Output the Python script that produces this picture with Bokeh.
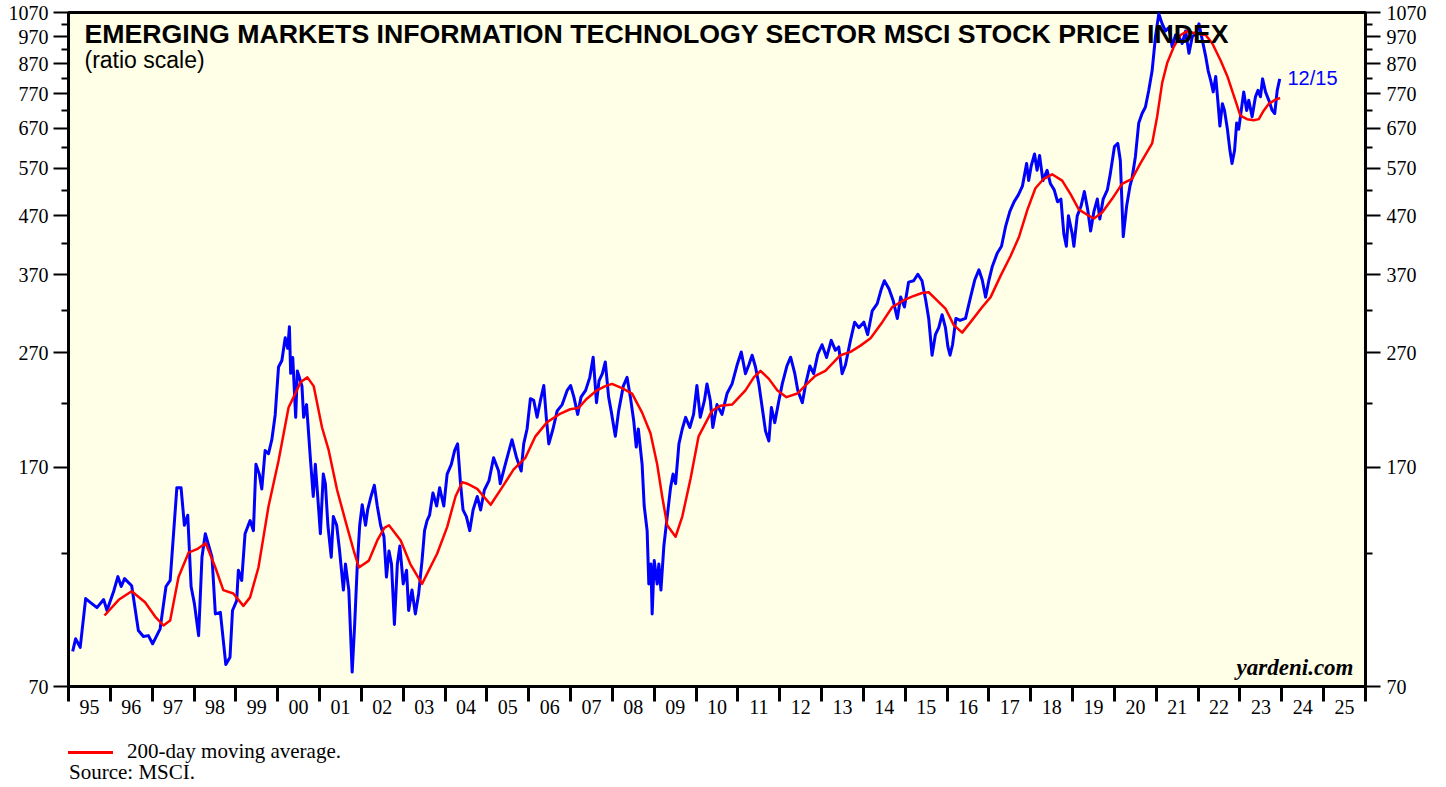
from bokeh.plotting import figure
from bokeh.layouts import column
from bokeh.models import (Range1d, FixedTicker, PrintfTickFormatter, LogAxis,
                          CustomJSTickFormatter, Label, Div)
from bokeh.embed import file_html
from bokeh.resources import INLINE

# ---------------- data (decimal year, index level) ----------------
blue_dates = [
    1995.10, 1995.17, 1995.28, 1995.41, 1995.52, 1995.68, 1995.84, 1995.92,
    1996.08, 1996.18, 1996.26, 1996.34, 1996.51, 1996.67, 1996.79, 1996.91,
    1997.01, 1997.19, 1997.33, 1997.43, 1997.59, 1997.69, 1997.77, 1997.85, 1997.93,
    1998.01, 1998.11, 1998.19, 1998.27, 1998.43, 1998.51, 1998.63, 1998.76, 1998.86, 1998.92,
    1999.02, 1999.06, 1999.14, 1999.22, 1999.34, 1999.42, 1999.48, 1999.56, 1999.62,
    1999.70, 1999.78, 1999.86, 1999.94,
    2000.02, 2000.10, 2000.18, 2000.24, 2000.28, 2000.31, 2000.36, 2000.43, 2000.47,
    2000.58, 2000.62, 2000.69, 2000.78, 2000.85, 2000.90, 2000.98,
    2001.02, 2001.09, 2001.14, 2001.20, 2001.28, 2001.33, 2001.41, 2001.48, 2001.57,
    2001.62, 2001.70, 2001.74, 2001.78, 2001.84, 2001.90, 2001.96,
    2002.02, 2002.10, 2002.15, 2002.23, 2002.31, 2002.38, 2002.46, 2002.54, 2002.60,
    2002.66, 2002.72, 2002.79, 2002.86, 2002.92,
    2003.00, 2003.08, 2003.13, 2003.21, 2003.29, 2003.37, 2003.45, 2003.51, 2003.57,
    2003.63, 2003.71, 2003.80, 2003.87, 2003.97,
    2004.05, 2004.15, 2004.23, 2004.30, 2004.37, 2004.43, 2004.51, 2004.59, 2004.67,
    2004.77, 2004.85, 2004.94,
    2005.05, 2005.16, 2005.28, 2005.32, 2005.44, 2005.60, 2005.71, 2005.82, 2005.88, 2005.96,
    2006.04, 2006.12, 2006.20, 2006.28, 2006.36, 2006.42, 2006.48, 2006.58, 2006.68,
    2006.80, 2006.92,
    2007.00, 2007.08, 2007.17, 2007.25, 2007.36, 2007.46, 2007.54, 2007.62, 2007.68,
    2007.76, 2007.83, 2007.91, 2007.97,
    2008.07, 2008.15, 2008.26, 2008.35, 2008.43, 2008.51, 2008.57, 2008.62, 2008.71,
    2008.76, 2008.83, 2008.87, 2008.92, 2008.95,
    2009.00, 2009.07, 2009.11, 2009.16, 2009.23, 2009.31, 2009.39, 2009.45, 2009.51,
    2009.59, 2009.67, 2009.75, 2009.85, 2009.94,
    2010.02, 2010.10, 2010.20, 2010.26, 2010.34, 2010.40, 2010.50, 2010.62, 2010.74,
    2010.86, 2010.98,
    2011.08, 2011.18, 2011.26, 2011.34, 2011.42, 2011.50, 2011.58, 2011.66, 2011.74,
    2011.80, 2011.88, 2011.98,
    2012.06, 2012.17, 2012.26, 2012.36, 2012.43, 2012.54, 2012.62, 2012.72, 2012.81, 2012.91,
    2013.01, 2013.12, 2013.23, 2013.33, 2013.41, 2013.49, 2013.57, 2013.69, 2013.79, 2013.89,
    2014.01, 2014.10, 2014.21, 2014.33, 2014.43, 2014.50, 2014.61, 2014.71, 2014.81,
    2014.89, 2014.98,
    2015.08, 2015.20, 2015.30, 2015.40, 2015.49, 2015.56, 2015.64, 2015.72, 2015.80,
    2015.88, 2015.96,
    2016.02, 2016.07, 2016.13, 2016.21, 2016.31, 2016.44, 2016.56, 2016.66, 2016.76,
    2016.84, 2016.92,
    2017.00, 2017.08, 2017.20, 2017.30, 2017.40, 2017.50, 2017.60, 2017.70, 2017.80,
    2017.90, 2017.95,
    2018.01, 2018.09, 2018.15, 2018.21, 2018.29, 2018.39, 2018.47, 2018.56, 2018.64,
    2018.72, 2018.79, 2018.85, 2018.90, 2018.99,
    2019.03, 2019.11, 2019.20, 2019.28, 2019.36, 2019.43, 2019.51, 2019.59, 2019.65,
    2019.73, 2019.83, 2019.90,
    2020.00, 2020.08, 2020.14, 2020.21, 2020.29, 2020.37, 2020.42, 2020.50, 2020.58,
    2020.66, 2020.74, 2020.82, 2020.90, 2020.98,
    2021.06, 2021.14, 2021.22, 2021.30, 2021.38, 2021.46, 2021.54, 2021.62, 2021.70,
    2021.78, 2021.86, 2021.94,
    2022.02, 2022.10, 2022.18, 2022.24, 2022.30, 2022.36, 2022.42, 2022.47, 2022.52,
    2022.58, 2022.63, 2022.70, 2022.76, 2022.81, 2022.87, 2022.92, 2022.97,
    2023.03, 2023.09, 2023.16, 2023.21, 2023.29, 2023.37, 2023.43, 2023.49, 2023.54,
    2023.61, 2023.69, 2023.77, 2023.83, 2023.89, 2023.95,
]
blue_values = [
    80.7, 84.9, 82.0, 99.9, 98.4, 96.3, 99.5, 95.2,
    102.9, 109.2, 104.9, 108.3, 105.2, 87.8, 85.7, 86.0,
    83.2, 88.4, 104.9, 107.5, 156.5, 156.5, 134.4, 140.0, 104.9,
    97.8, 86.0, 118.1, 129.9, 118.1, 93.9, 94.5, 76.5, 78.8, 95.2,
    99.1, 112.0, 107.5, 129.9, 137.0, 131.5, 172.0, 165.3, 155.7,
    181.9, 179.5, 190.0, 210.0,
    255.0, 261.8, 287.0, 275.0, 300.0, 248.5, 265.0, 208.0, 251.0,
    236.0, 208.0, 219.0, 176.6, 151.0, 172.0, 143.0,
    129.9, 165.3, 159.0, 134.4, 118.1, 139.2, 134.4, 121.1, 103.4,
    114.9, 103.4, 87.5, 74.2, 90.0, 113.3, 134.4,
    146.0, 134.4, 143.0, 151.0, 158.0, 145.3, 134.4, 128.3, 109.0,
    121.1, 114.9, 90.0, 114.9, 123.6,
    106.0, 112.0, 95.2, 103.4, 93.9, 102.0, 116.5, 131.5, 137.0,
    140.0, 153.2, 145.3, 156.5, 145.3,
    165.3, 172.0, 181.9, 186.8, 159.0, 143.0, 139.2, 131.5, 143.0,
    151.0, 143.0, 155.0,
    161.0, 176.6, 167.4, 159.0, 172.0, 190.0, 176.6, 167.4, 186.8, 198.4,
    224.3, 222.7, 208.0, 222.7, 236.6, 208.0, 186.8, 198.4, 213.5,
    219.0, 232.0,
    236.6, 225.7, 210.5, 225.7, 232.0, 244.5, 265.3, 220.7, 241.0,
    248.2, 260.2, 225.7, 213.5,
    192.6, 213.5, 236.0, 244.5, 225.7, 205.0, 184.4, 198.4, 172.0,
    145.3, 131.5, 106.0, 114.9, 93.9,
    116.5, 106.0, 114.9, 103.4, 123.6, 139.2, 156.5, 165.3, 159.0,
    186.8, 198.4, 208.0, 199.6, 210.5,
    236.6, 208.0, 222.7, 238.1, 222.7, 199.6, 219.0, 210.5, 229.0,
    238.1, 257.0,
    271.0, 248.2, 257.0, 267.4, 255.0, 238.1, 216.4, 196.7, 189.0,
    216.4, 203.6, 222.7,
    238.1, 256.0, 265.3, 248.2, 232.0, 220.7, 238.1, 256.0, 248.2, 268.6,
    279.0, 265.0, 284.0, 272.8, 276.5, 248.2, 257.0, 284.0, 305.7, 299.0,
    305.7, 290.6, 320.0, 329.6, 350.0, 361.4, 350.0, 333.8, 310.3,
    338.3, 325.0,
    359.5, 361.4, 371.0, 361.4, 333.8, 310.3, 267.4, 290.6, 299.0,
    315.0, 299.0,
    276.5, 267.4, 279.0, 310.3, 307.8, 310.3, 338.3, 362.5, 377.8,
    362.5, 338.3,
    362.5, 383.0, 404.5, 415.6, 451.0, 478.6, 497.4, 511.0, 530.0,
    581.0, 542.0,
    575.0, 603.7, 565.0, 600.0, 542.0, 565.0, 535.0, 522.0, 497.4,
    503.0, 437.0, 415.6, 470.0, 437.0,
    415.6, 470.0, 488.5, 518.6, 482.0, 442.0, 478.6, 503.0, 464.0,
    503.0, 522.0, 557.0,
    622.0, 630.0, 588.0, 432.0, 488.5, 530.0, 547.0, 597.0, 684.0,
    711.0, 730.0, 781.0, 845.0, 970.0,
    1065.0, 1022.0, 993.0, 1007.0, 932.0, 977.0, 970.0, 944.0, 993.0,
    907.0, 970.0, 983.0,
    1022.0, 957.0, 896.0, 845.0, 813.0, 776.0, 826.0, 750.0, 676.0,
    740.0, 720.0, 667.0, 612.0, 581.0, 612.0, 684.0, 667.0,
    720.0, 776.0, 720.0, 750.0, 702.0, 761.0, 781.0, 761.0, 818.0,
    776.0, 750.0, 720.0, 711.0, 781.0, 818.0,
]

ma_dates = [
    1995.86, 1996.20, 1996.51, 1996.83, 1997.07, 1997.27, 1997.43, 1997.63, 1997.87,
    1998.07, 1998.28, 1998.51, 1998.70, 1998.94, 1999.18, 1999.34, 1999.54, 1999.78,
    2000.02, 2000.26, 2000.38, 2000.55, 2000.71, 2000.86, 2001.06, 2001.22, 2001.42,
    2001.66, 2001.82, 2001.94, 2002.18, 2002.38, 2002.55, 2002.66, 2002.94, 2003.17,
    2003.45, 2003.61, 2003.81, 2004.05, 2004.25, 2004.41, 2004.53, 2004.77, 2005.09,
    2005.36, 2005.64, 2005.92, 2006.16, 2006.44, 2006.76, 2006.99, 2007.19, 2007.39,
    2007.63, 2007.83, 2007.99, 2008.23, 2008.47, 2008.71, 2008.91, 2009.07, 2009.19,
    2009.31, 2009.51, 2009.67, 2009.87, 2010.06, 2010.38, 2010.58, 2010.86, 2011.18,
    2011.38, 2011.54, 2011.74, 2011.94, 2012.16, 2012.42, 2012.65, 2012.85, 2013.09,
    2013.45, 2013.69, 2013.93, 2014.17, 2014.45, 2014.69, 2014.96, 2015.16, 2015.40,
    2015.56, 2015.76, 2015.96, 2016.16, 2016.36, 2016.56, 2016.84, 2017.04, 2017.28,
    2017.52, 2017.72, 2017.92, 2018.11, 2018.31, 2018.51, 2018.75, 2018.95, 2019.15,
    2019.35, 2019.51, 2019.71, 2019.94, 2020.18, 2020.42, 2020.62, 2020.90, 2021.02,
    2021.14, 2021.26, 2021.42, 2021.58, 2021.74, 2021.94, 2022.18, 2022.34, 2022.54,
    2022.70, 2022.86, 2023.01, 2023.17, 2023.33, 2023.45, 2023.57, 2023.69, 2023.85,
    2023.96,
]
ma_values = [
    93.3, 99.4, 102.9, 98.4, 92.9, 89.6, 91.4, 109.0, 120.3,
    122.0, 125.0, 113.3, 103.4, 102.0, 97.0, 100.4, 113.3, 145.0,
    174.5, 216.4, 225.7, 240.0, 244.5, 236.0, 199.6, 181.9, 155.0,
    133.4, 121.1, 113.3, 116.5, 126.4, 133.0, 134.4, 126.4, 114.9,
    106.0, 112.0, 119.8, 133.4, 151.0, 160.0, 159.0, 155.7, 146.0,
    156.5, 168.5, 176.6, 192.6, 204.0, 211.2, 214.9, 216.0, 224.3,
    232.0, 236.0, 238.1, 234.0, 229.0, 212.0, 195.0, 172.0, 151.0,
    134.4, 128.3, 139.2, 162.5, 192.6, 213.5, 218.0, 219.0, 232.0,
    244.5, 251.0, 243.0, 232.0, 225.7, 229.0, 238.1, 246.0, 251.0,
    267.4, 271.0, 278.0, 286.3, 305.7, 325.0, 333.8, 339.0, 344.0,
    345.0, 333.8, 323.0, 302.0, 293.0, 305.7, 325.0, 338.3, 369.0,
    400.0, 432.0, 482.0, 525.5, 546.0, 556.0, 542.0, 513.0, 482.0,
    472.0, 465.0, 477.0, 503.0, 535.0, 546.0, 581.0, 630.0, 702.0,
    805.0, 872.0, 932.0, 977.0, 992.0, 983.0, 977.0, 944.0, 880.0,
    826.0, 761.0, 705.0, 695.0, 692.0, 695.0, 720.0, 740.0, 752.0,
    757.0,
]

y_ticks = [70, 170, 270, 370, 470, 570, 670, 770, 870, 970, 1070]
y_minor = [120, 220, 320, 420, 520, 620, 720, 820, 920, 1020]
year_starts = list(range(1995, 2027))
year_mids = [y + 0.5 for y in range(1995, 2026)]

title_text = "EMERGING MARKETS INFORMATION TECHNOLOGY SECTOR MSCI STOCK PRICE INDEX"
subtitle_text = "(ratio scale)"
date_text = "12/15"
legend_text = "200-day moving average."
source_text = "Source: MSCI."
brand_text = "yardeni.com"

# ---------------- figure ----------------
p = figure(width=1438, height=730,
           x_range=Range1d(1995, 2026), y_range=Range1d(70, 1070),
           y_axis_type="log", output_backend="svg", toolbar_location=None,
           min_border_left=68, min_border_right=73, min_border_top=12,
           min_border_bottom=44)
p.background_fill_color = "#FFFEE6"
p.border_fill_color = "white"
p.grid.visible = False
p.outline_line_color = "black"
p.outline_line_width = 3


def style_y(ax):
    ax.ticker = FixedTicker(ticks=y_ticks, minor_ticks=y_minor)
    ax.formatter = PrintfTickFormatter(format="%d")
    ax.axis_line_width = 3
    ax.axis_line_color = "black"
    ax.major_tick_out = 15
    ax.major_tick_in = 0
    ax.minor_tick_out = 7
    ax.minor_tick_in = 0
    ax.major_tick_line_width = 2
    ax.minor_tick_line_width = 2
    ax.major_label_standoff = 5
    ax.major_label_text_font = "Liberation Serif"
    ax.major_label_text_font_size = "20px"
    ax.major_label_text_color = "black"


style_y(p.yaxis[0])
ra = LogAxis()
style_y(ra)
ra.major_label_standoff = 6
p.add_layout(ra, "right")

xa = p.xaxis[0]
xa.ticker = FixedTicker(ticks=year_mids, minor_ticks=year_starts)
xa.formatter = CustomJSTickFormatter(
    code="const y = Math.floor(tick); return String(y % 100).padStart(2, '0');")
xa.axis_line_width = 3
xa.major_tick_out = 0
xa.major_tick_in = 0
xa.minor_tick_out = 15
xa.minor_tick_in = 0
xa.minor_tick_line_width = 3
xa.major_label_standoff = -2
xa.major_label_text_font = "Liberation Serif"
xa.major_label_text_font_size = "20px"
xa.major_label_text_color = "black"

p.line(blue_dates, blue_values, line_color="#0000FF", line_width=3, line_join="round")
p.line(ma_dates, ma_values, line_color="#FF0000", line_width=2.5, line_join="round")

# ---------------- texts inside the frame ----------------
p.add_layout(Label(x=16, y=653, x_units="screen", y_units="screen", text=title_text,
                   text_font="Liberation Sans", text_font_style="bold", text_color="black",
                   text_font_size="26.7px", text_baseline="alphabetic", text_align="left"))
p.add_layout(Label(x=16, y=627, x_units="screen", y_units="screen", text=subtitle_text,
                   text_font="Liberation Sans", text_font_size="23px", text_color="black",
                   text_baseline="alphabetic", text_align="left"))
p.add_layout(Label(x=1219, y=609, x_units="screen", y_units="screen", text=date_text,
                   text_font="Liberation Sans", text_font_size="20px", text_color="#0000FF",
                   text_baseline="alphabetic", text_align="left"))
p.add_layout(Label(x=1285, y=19, x_units="screen", y_units="screen", text=brand_text,
                   text_font="Liberation Serif", text_font_style="bold italic",
                   text_color="black", text_font_size="23px",
                   text_baseline="alphabetic", text_align="right"))

# ---------------- legend / source below the chart ----------------
foot_html = (
    '<div style="position:relative;width:1438px;height:57px;'
    'font-family:\'Liberation Serif\';font-size:21px;line-height:21px;color:black;">'
    '<div style="position:absolute;left:68px;top:21px;width:45px;height:3px;'
    'background:#FF0000;"></div>'
    '<div style="position:absolute;left:127px;top:11px;white-space:nowrap;">'
    + legend_text + '</div>'
    '<div style="position:absolute;left:69px;top:32px;white-space:nowrap;">'
    + source_text + '</div>'
    '</div>'
)
foot = Div(text=foot_html, width=1438, height=57, margin=0)

layout = column(p, foot, spacing=0)
open("out.html", "w").write(file_html(layout, INLINE))
